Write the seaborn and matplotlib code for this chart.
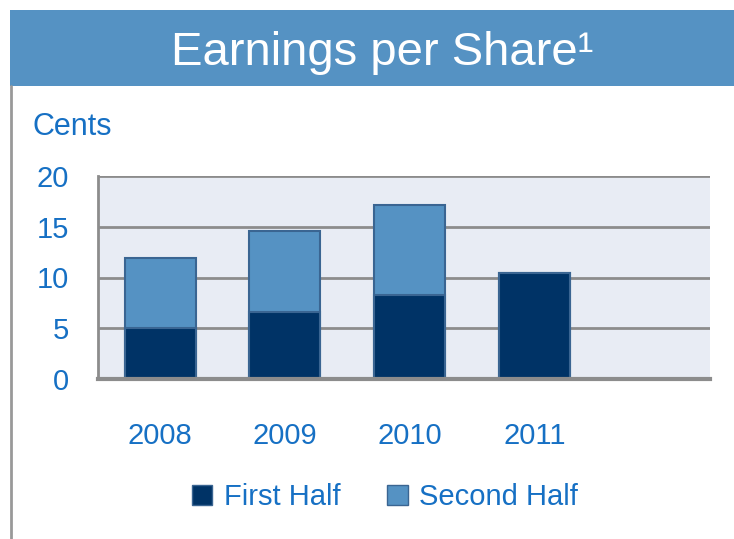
import numpy as np
import pandas as pd
import seaborn as sns
import matplotlib.pyplot as plt
from matplotlib.patches import Rectangle, Patch
from matplotlib.lines import Line2D

years = ["2008", "2009", "2010", "2011"]
first_half = [5.0, 6.6, 8.3, 10.4]
second_half = [6.9, 8.0, 8.8, 0.0]

sns.set_style("white")
plt.rcParams['font.family'] = ['Liberation Sans Narrow', 'Liberation Sans', 'DejaVu Sans']

blue_txt = "#1670c4"
dark = "#003366"
light = "#5592c3"
edge = "#3a6592"

df = pd.DataFrame({"year": years, "first": first_half,
                   "total": np.array(first_half) + np.array(second_half)})

fig = plt.figure(figsize=(7.34, 5.39), dpi=100)

# header band + left border
fig.patches.append(Rectangle((10 / 734, 1 - 86 / 539), 1, 76 / 539, transform=fig.transFigure,
                             facecolor=light, edgecolor="none", zorder=0))
fig.add_artist(Line2D([10.5 / 734, 10.5 / 734], [0, 1 - 86 / 539], transform=fig.transFigure,
                      color="#999999", lw=2))
fig.text(382 / 734, 1 - 53 / 539, "Earnings per Share\u00b9", color="white", fontsize=34,
         ha="center", va="center")
fig.text(33 / 734, 1 - 127 / 539, "Cents", color=blue_txt, fontsize=22, ha="left", va="center")

ax = fig.add_axes([98 / 734, 1 - 379 / 539, 612 / 734, 203 / 539])
ax.set_facecolor("#e8ecf4")

sns.barplot(data=df, x="year", y="total", color=light, width=0.57, edgecolor=edge,
            linewidth=1.5, saturation=1, ax=ax, zorder=3)
sns.barplot(data=df, x="year", y="first", color=dark, width=0.57, edgecolor=edge,
            linewidth=1.5, saturation=1, ax=ax, zorder=4)

ax.set_xlim(-0.5, 4.41)
ax.set_ylim(0, 20)
ax.set_yticks([0, 5, 10, 15, 20])
ax.yaxis.grid(True, color="#8c8c8c", lw=2)
ax.set_axisbelow(True)
ax.set_xlabel("")
ax.set_ylabel("")
for s in ["top", "right"]:
    ax.spines[s].set_visible(False)
ax.spines["left"].set_color("#8c8c8c")
ax.spines["left"].set_linewidth(2)
ax.spines["bottom"].set_color("#8c8c8c")
ax.spines["bottom"].set_linewidth(3)
ax.spines["bottom"].set_zorder(5)
ax.tick_params(axis="y", length=0, pad=21, labelsize=21, labelcolor=blue_txt)
ax.tick_params(axis="x", length=0, pad=31, labelsize=21, labelcolor=blue_txt)

handles = [Patch(facecolor=dark, edgecolor=edge, label="First Half"),
           Patch(facecolor=light, edgecolor=edge, label="Second Half")]
leg = fig.legend(handles=handles, loc="center", bbox_to_anchor=(385 / 734, 1 - 497 / 539),
                 ncol=2, frameon=False, fontsize=21, handlelength=0.7, handleheight=0.7,
                 handletextpad=0.4, columnspacing=1.6)
for t in leg.get_texts():
    t.set_color(blue_txt)

fig.savefig("out.png", dpi=100)
